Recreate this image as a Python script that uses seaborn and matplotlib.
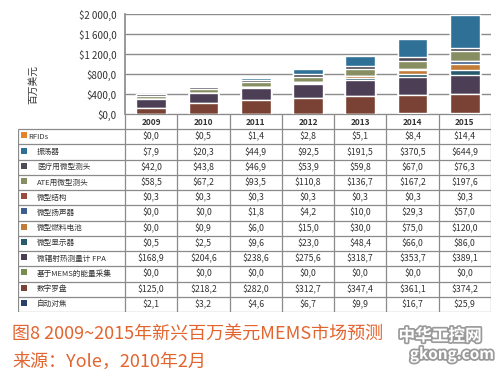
import matplotlib
matplotlib.use("Agg")
import matplotlib.pyplot as plt
import matplotlib.patheffects as pe
import numpy as np
import pandas as pd
import seaborn as sns

# ---- data (百万美元) ----
years = ["2009", "2010", "2011", "2012", "2013", "2014", "2015"]
labels = ["RFIDs", "振荡器", "医疗用微型测头", "ATE用微型测头", "微型结构", "微型扬声器",
          "微型燃料电池", "微型显示器", "微辐射热测量计 FPA", "基于MEMS的能量采集",
          "数字罗盘", "自动对焦"]
rfid = [0.0, 0.5, 1.4, 2.8, 5.1, 8.4, 14.4]
oscillator = [7.9, 20.3, 44.9, 92.5, 191.5, 370.5, 644.9]
medical = [42.0, 43.8, 46.9, 53.9, 59.8, 67.0, 76.3]
ate = [58.5, 67.2, 93.5, 110.8, 136.7, 167.2, 197.6]
structure = [0.3, 0.3, 0.3, 0.3, 0.3, 0.3, 0.3]
speaker = [0.0, 0.0, 1.8, 4.2, 10.0, 29.3, 57.0]
fuel_cell = [0.0, 0.9, 6.0, 15.0, 30.0, 75.0, 120.0]
display = [0.5, 2.5, 9.6, 23.0, 48.4, 66.0, 86.0]
fpa = [168.9, 204.6, 238.6, 275.6, 318.7, 353.7, 389.1]
energy = [0.0, 0.0, 0.0, 0.0, 0.0, 0.0, 0.0]
compass = [125.0, 218.2, 282.0, 312.7, 347.4, 361.1, 374.2]
autofocus = [2.1, 3.2, 4.6, 6.7, 9.9, 16.7, 25.9]
yticks = [0, 400, 800, 1200, 1600, 2000]

series = [rfid, oscillator, medical, ate, structure, speaker,
          fuel_cell, display, fpa, energy, compass, autofocus]
colors = ["#E3822A", "#2F7196", "#4F4A57", "#878F62", "#9C4A3E", "#3D5E8E",
          "#C07C38", "#275A6C", "#4B3E55", "#7A8C4C", "#7A4234", "#2A4068"]

df = pd.DataFrame(dict(zip(labels, series)), index=years)
# stack from last row (bottom) to first row (top)
cum = df[labels[::-1]].cumsum(axis=1)


def money(v):
    s = f"${v:,.1f}"
    return s.replace(",", " ").replace(".", ",")


sns.set_theme(style="white")
plt.rcParams["font.family"] = ["Noto Sans CJK SC", "DejaVu Sans"]

fig = plt.figure(figsize=(5.0, 3.89), dpi=100)
W, H = 500, 389

# ---- chart ----
ax = fig.add_axes([125 / W, 1 - 114 / H, 366 / W, 100 / H])
for lab in labels:  # tallest cumulative first, smaller ones painted over
    d = pd.DataFrame({"year": years, "value": cum[lab].values})
    sns.barplot(data=d, x="year", y="value", color=colors[labels.index(lab)],
                saturation=1, width=0.57, ax=ax, errorbar=None)
ax.set_xlim(-0.5, 6.5)
ax.set_ylim(0, 2000)
ax.set_yticks(yticks)
ax.set_yticklabels([money(v) for v in yticks], fontsize=7, color="#333333",
                   fontweight="medium")
ax.set_xticks([])
ax.set_xlabel("")
ax.set_ylabel("")
ax.grid(axis="y", color="#8c8c8c", linewidth=1.0)
ax.set_axisbelow(True)
for s in ["top", "right", "bottom"]:
    ax.spines[s].set_visible(False)
ax.spines["left"].set_color("#8c8c8c")
ax.tick_params(axis="y", length=0, pad=6)

fig.text(33 / W, 1 - 84 / H, "百万美元", rotation=90, fontsize=7,
         color="#333333", ha="center", va="center")

# ---- data table ----
x_left = -0.5 - 107 / 52.3
tax = fig.add_axes([18 / W, 1 - 312 / H, 473 / W, 198 / H])
nrow = len(labels) + 1
tax.set_xlim(x_left, 6.5)
tax.set_ylim(nrow, 0)
tax.axis("off")
lc, lw = "#8a8a8a", 0.9
tax.hlines(0, -0.5, 6.5, color=lc, lw=lw)
tax.hlines(np.arange(1, nrow + 1), x_left, 6.5, color=lc, lw=lw)
tax.vlines(np.arange(-0.5, 7.0, 1.0), 0, nrow, color=lc, lw=lw)
tax.vlines(x_left, 1, nrow, color=lc, lw=lw)

for j, yr in enumerate(years):
    tax.text(j, 0.55, yr, ha="center", va="center", fontsize=6,
             color="#333333", fontweight="bold")

for i, lab in enumerate(labels):
    yc = i + 1.5
    tax.scatter(x_left + 6 / 52.3, yc - 0.1, marker="s", s=14,
                color=colors[i], linewidths=0)
    tx = x_left + (10 if i == 0 else 19) / 52.3
    tax.text(tx, yc, lab, ha="left", va="center", fontsize=5.5, color="#333333")
    for j, v in enumerate(series[i]):
        tax.text(j, yc, money(v), ha="center", va="center", fontsize=6.3,
                 color="#333333", fontweight="medium")

# ---- caption ----
cap = "#E2642F"
fig.text(12 / W, 1 - 334 / H, "图8 2009~2015年新兴百万美元MEMS市场预测",
         fontsize=13, color=cap, ha="left", va="center")
fig.text(12 / W, 1 - 362 / H, "来源：Yole，2010年2月",
         fontsize=13, color=cap, ha="left", va="center")

# watermark
halo = [pe.withStroke(linewidth=2.5, foreground="#9a9a9a")]
fig.text(440 / W, 1 - 336 / H, "中华工控网", fontsize=12, fontweight="bold",
         color="white", ha="center", va="center", path_effects=halo)
fig.text(452 / W, 1 - 354 / H, "gkong.com", fontsize=11, fontweight="bold",
         color="white", ha="center", va="center", path_effects=halo)

fig.savefig("out.png", dpi=100, facecolor="white")
